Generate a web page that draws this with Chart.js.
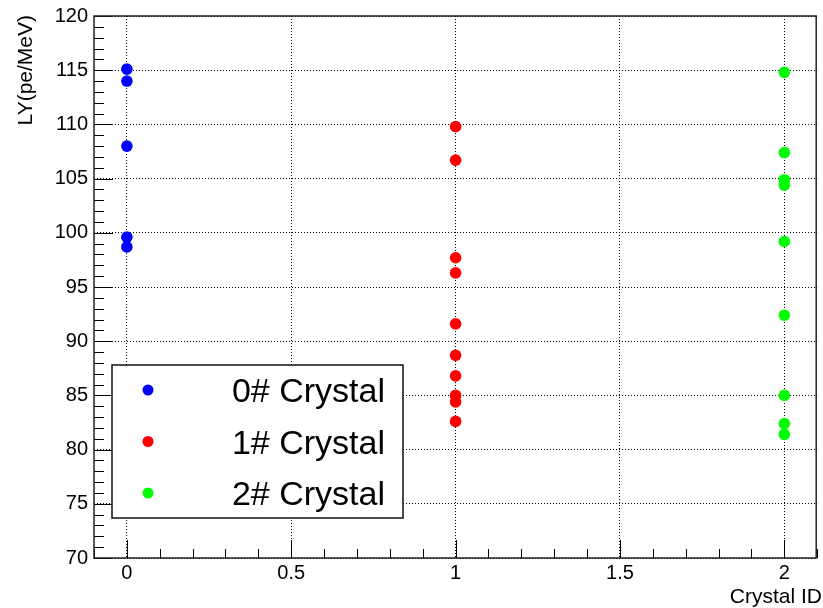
<!DOCTYPE html>
<html>
<head>
<meta charset="utf-8">
<script src="https://cdn.jsdelivr.net/npm/chart.js@4.4.0/dist/chart.umd.min.js"></script>
<style>
  html, body { margin: 0; padding: 0; background: #fff; }
  #wrap { width: 823px; height: 608px; }
</style>
</head>
<body>
<div id="wrap"><canvas id="graficoLY" width="823" height="608"></canvas></div>
<script>
// Data
const crystalIds = [0, 1, 2];
const seriesLabels = ["0# Crystal", "1# Crystal", "2# Crystal"];
const seriesColors = ["#0000ff", "#ff0000", "#00ff00"];
const lyCrystal0 = [115.1, 114.0, 108.0, 99.6, 98.7];
const lyCrystal1 = [109.8, 106.7, 97.7, 96.3, 91.6, 88.7, 86.8, 85.0, 84.4, 82.6];
const lyCrystal2 = [114.8, 107.4, 104.9, 104.4, 99.2, 92.4, 85.0, 82.4, 81.4];
const xTicks = [0, 0.5, 1, 1.5, 2];
const yTicks = [70, 75, 80, 85, 90, 95, 100, 105, 110, 115, 120];
const xTitle = "Crystal ID";
const yTitle = "LY(pe/MeV)";

document.addEventListener("DOMContentLoaded", () => {
  const FONT = "'Liberation Sans', Arial, Helvetica, sans-serif";
  const series = [lyCrystal0, lyCrystal1, lyCrystal2];

  const datasets = series.map((vals, i) => ({
    label: seriesLabels[i],
    data: vals.map(v => ({ x: crystalIds[i], y: v })),
    backgroundColor: seriesColors[i],
    borderColor: seriesColors[i],
    borderWidth: 0,
    pointRadius: 5.8,
  }));

  // ROOT look: frame, inward ticks, axis titles, boxed legend
  const rootStyle = {
    id: "rootStyle",
    afterDatasetsDraw(chart) {
      const { ctx, chartArea: a, scales: { x, y } } = chart;
      ctx.save();

      // ticks
      ctx.strokeStyle = "#000";
      ctx.lineWidth = 1;
      ctx.beginPath();
      for (let v = Math.ceil(y.min); v <= y.max; v++) {
        const py = Math.round(y.getPixelForValue(v)) + 0.5;
        const len = v % 5 === 0 ? 19 : 10;
        ctx.moveTo(a.left, py);
        ctx.lineTo(a.left + len, py);
      }
      for (let i = Math.ceil(x.min * 10 - 1e-6); i <= Math.floor(x.max * 10 + 1e-6); i++) {
        const px = Math.round(x.getPixelForValue(i / 10)) + 0.5;
        const len = i % 5 === 0 ? 18 : 9;
        ctx.moveTo(px, a.bottom);
        ctx.lineTo(px, a.bottom - len);
      }
      ctx.stroke();

      // frame
      ctx.lineWidth = 1.5;
      ctx.strokeStyle = "#222";
      ctx.strokeRect(a.left, a.top, a.right - a.left - 1, a.bottom - a.top);

      // axis titles
      ctx.fillStyle = "#000";
      ctx.font = `21px ${FONT}`;
      ctx.textAlign = "right";
      ctx.textBaseline = "alphabetic";
      ctx.fillText(xTitle, 822, 603);
      ctx.save();
      ctx.translate(32, a.top - 1);
      ctx.rotate(-Math.PI / 2);
      ctx.fillText(yTitle, 0, 0);
      ctx.restore();

      // legend
      const bx = a.left + 18, by = 365, bw = 291, bh = 153;
      ctx.fillStyle = "#fff";
      ctx.fillRect(bx, by, bw, bh);
      ctx.lineWidth = 1.5;
      ctx.strokeStyle = "#111";
      ctx.strokeRect(bx, by, bw, bh);
      ctx.font = `34px ${FONT}`;
      chart.data.datasets.forEach((ds, i) => {
        const rowY = by + 25 + i * 51.5;
        ctx.fillStyle = ds.backgroundColor;
        ctx.beginPath();
        ctx.arc(bx + 36, rowY, 5.5, 0, Math.PI * 2);
        ctx.fill();
        ctx.fillStyle = "#000";
        ctx.textAlign = "right";
        ctx.fillText(ds.label, bx + 273, rowY + 12);
      });

      ctx.restore();
    },
  };

  const ctx = document.getElementById("graficoLY").getContext("2d");
  new Chart(ctx, {
    type: "scatter",
    data: { datasets },
    options: {
      responsive: false,
      animation: false,
      layout: { padding: { top: 16, right: 0, left: 0, bottom: 0 } },
      plugins: {
        legend: { display: false },
        tooltip: { enabled: false },
      },
      scales: {
        x: {
          type: "linear",
          min: -0.1,
          max: 2.1,
          afterBuildTicks: s => { s.ticks = xTicks.map(v => ({ value: v })); },
          afterFit: s => { s.height = 50; s.paddingLeft = 0; s.paddingRight = 0; },
          ticks: {
            font: { family: FONT, size: 20 },
            color: "#000",
            padding: 3,
            maxRotation: 0,
            autoSkip: false,
            callback: v => String(v),
          },
          grid: { color: "#000", lineWidth: 1, drawTicks: false },
          border: { display: false, dash: [1, 2] },
        },
        y: {
          type: "linear",
          min: 70,
          max: 120,
          afterBuildTicks: s => { s.ticks = yTicks.map(v => ({ value: v })); },
          afterFit: s => { s.width = 94; s.paddingTop = 0; s.paddingBottom = 0; },
          ticks: {
            font: { family: FONT, size: 20 },
            color: "#000",
            padding: 6,
            autoSkip: false,
            callback: v => String(v),
          },
          grid: { color: "#000", lineWidth: 1, drawTicks: false },
          border: { display: false, dash: [1, 2] },
        },
      },
    },
    plugins: [rootStyle],
  });
});
</script>
</body>
</html>
